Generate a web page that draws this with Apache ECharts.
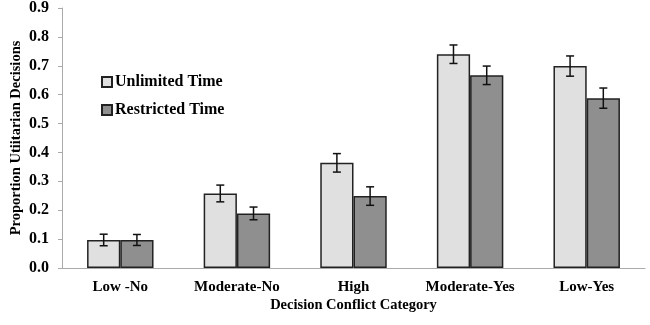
<!DOCTYPE html>
<html lang="en">
<head>
  <meta charset="UTF-8">
  <title>Decision Conflict</title>
  <script src="https://cdn.jsdelivr.net/npm/echarts@6/dist/echarts.min.js"></script>
</head>
<body style="margin:0">
  <div id="main" style="width:650px;height:325px"></div>
  <script>
    var categories = ['Low -No', 'Moderate-No', 'High', 'Moderate-Yes', 'Low-Yes']
    var unlimited = [0.097, 0.258, 0.364, 0.740, 0.699]
    var restricted = [0.097, 0.189, 0.249, 0.667, 0.588]
    var unlimitedErr = [0.02, 0.029, 0.032, 0.032, 0.035]
    var restrictedErr = [0.019, 0.022, 0.032, 0.032, 0.035]
    var yTicks = ['0.0', '0.1', '0.2', '0.3', '0.4', '0.5', '0.6', '0.7', '0.8', '0.9']

    var font = 'Liberation Serif'
    var gapRatio = 0.43

    function errData(vals, errs) {
      return vals.map(function (v, i) { return [i, v - errs[i], v + errs[i]] })
    }

    // side: -1 left bar, 1 right bar
    function errRender(side) {
      return function (params, api) {
        var i = api.value(0)
        var lo = api.coord([i, api.value(1)])
        var hi = api.coord([i, api.value(2)])
        var band = api.size([1, 0])[0]
        var bw = band * (1 - gapRatio) / 2
        var x = lo[0] + side * bw / 2
        var cap = 4
        var st = { stroke: '#111', lineWidth: 1.5 }
        return {
          type: 'group',
          children: [
            { type: 'line', shape: { x1: x, y1: lo[1], x2: x, y2: hi[1] }, style: st },
            { type: 'line', shape: { x1: x - cap, y1: lo[1], x2: x + cap, y2: lo[1] }, style: st },
            { type: 'line', shape: { x1: x - cap, y1: hi[1], x2: x + cap, y2: hi[1] }, style: st }
          ]
        }
      }
    }

    var myChart = echarts.init(document.getElementById('main'))
    var options = {
      animation: false,
      grid: { left: 62, right: 5, top: 8, bottom: 57, outerBoundsMode: 'none' },
      legend: {
        left: 96, top: 69, orient: 'vertical',
        itemWidth: 10, itemHeight: 10, itemGap: 12,
        icon: 'rect',
        textStyle: { fontFamily: font, fontWeight: 'bold', fontSize: 16, color: '#000', padding: [0, 0, 0, -2] },
        data: ['Unlimited Time', 'Restricted Time']
      },
      xAxis: {
        type: 'category',
        data: categories,
        name: 'Decision Conflict Category',
        nameLocation: 'middle',
        nameGap: 30,
        nameMoveOverlap: false,
        nameTextStyle: { fontFamily: font, fontWeight: 'bold', fontSize: 14.5, color: '#000' },
        axisLine: { lineStyle: { color: '#aaa', width: 1 } },
        axisTick: { length: 5, lineStyle: { color: '#aaa' } },
        axisLabel: { interval: 0, fontFamily: font, fontWeight: 'bold', fontSize: 15, color: '#000', margin: 12 }
      },
      yAxis: {
        type: 'value',
        min: 0, max: 0.9, interval: 0.1,
        name: 'Proportion Utiitarian Decisions',
        nameLocation: 'middle',
        nameGap: 38,
        nameMoveOverlap: false,
        nameTextStyle: { fontFamily: font, fontWeight: 'bold', fontSize: 14.5, color: '#000' },
        splitLine: { show: false },
        axisLine: { show: true, lineStyle: { color: '#aaa', width: 1 } },
        axisTick: { show: true, length: 4, lineStyle: { color: '#aaa' } },
        axisLabel: {
          fontFamily: font, fontWeight: 'bold', fontSize: 16, color: '#000', margin: 13,
          formatter: function (v) { return yTicks[Math.round(v * 10)] }
        }
      },
      series: [
        {
          name: 'Unlimited Time', type: 'bar', data: unlimited,
          barGap: '0%', barCategoryGap: (gapRatio * 100) + '%',
          itemStyle: { color: '#e0e0e0', borderColor: '#222', borderWidth: 1.5 }
        },
        {
          name: 'Restricted Time', type: 'bar', data: restricted,
          itemStyle: { color: '#8f8f8f', borderColor: '#222', borderWidth: 1.5 }
        },
        { type: 'custom', renderItem: errRender(-1), data: errData(unlimited, unlimitedErr), z: 5 },
        { type: 'custom', renderItem: errRender(1), data: errData(restricted, restrictedErr), z: 5 }
      ]
    }
    myChart.setOption(options)
  </script>
</body>
</html>
